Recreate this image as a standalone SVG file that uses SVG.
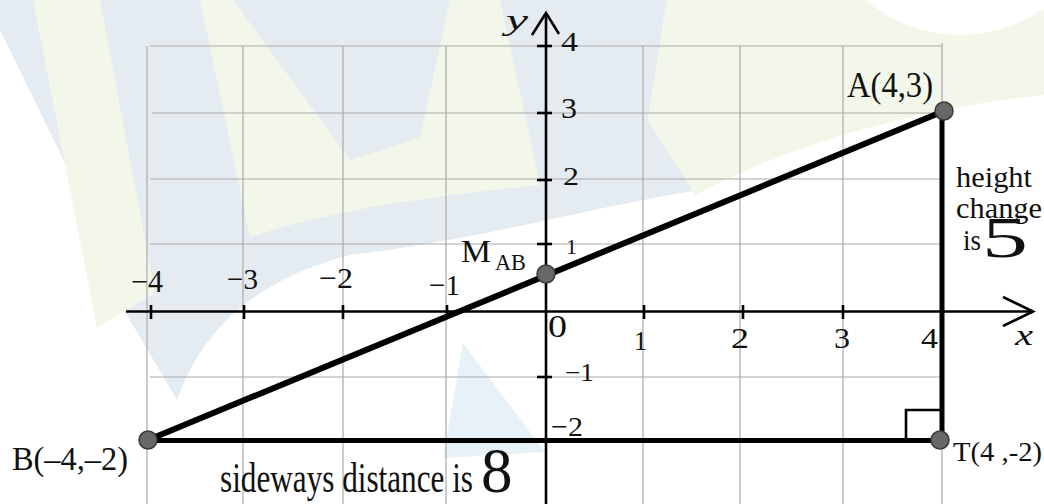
<svg xmlns="http://www.w3.org/2000/svg" width="1044" height="504" viewBox="0 0 1044 504">
<style>
  text { font-family: "Liberation Serif", "Times New Roman", serif; fill: #111; }
  .tick-label { font-size: 29px; }
  .axis-name { font-size: 30px; font-style: italic; }
  .grid line { stroke: #a9a9a9; stroke-width: 1.2; }
  .axis { stroke: #000; stroke-width: 2.6; fill: none; }
  .tick { stroke: #000; stroke-width: 2.6; }
  .seg { stroke: #000; fill: none; stroke-linecap: butt; }
  .pt { fill: #686868; stroke: #3a3a3a; stroke-width: 1.5; }
  .wm-blue { fill: #e5ecf1; }
  .wm-yellow { fill: #f2f7ea; }
</style>
<rect width="1044" height="504" fill="#ffffff"/>
<g id="watermark">
  <path class="wm-blue" d="M0,0 L35,0 L66,165 L0,30 Z"/>
  <path class="wm-blue" d="M95,0 L667,0 L648,120 L700,190 C 600,205 480,240 350,255 Q 215,290 177,400 L118,300 Z"/>
  <path class="wm-yellow" d="M33,0 L100,0 L155,293 L97,328 Z"/>
  <path class="wm-yellow" d="M200,0 L233,0 L350,160 L420,138 L450,0 L500,0 L540,185 C 450,195 350,205 250,237 Z"/>
  <path class="wm-yellow" d="M667,0 L1044,0 L1044,95 C 900,110 780,150 695,195 L648,120 Z"/>
  <circle cx="960" cy="-110" r="145" fill="#ffffff"/>
  <path d="M463,343 L443,458 L545,452 Z" fill="#e6f2f8"/>
</g>
<g id="grid" class="grid">
  <line x1="147" y1="46" x2="147" y2="504"/>
  <line x1="243" y1="46" x2="243" y2="504"/>
  <line x1="343" y1="46" x2="343" y2="504"/>
  <line x1="446" y1="46" x2="446" y2="504"/>
  <line x1="643" y1="46" x2="643" y2="504"/>
  <line x1="740" y1="46" x2="740" y2="504"/>
  <line x1="843" y1="46" x2="843" y2="504"/>
  <line x1="942" y1="43" x2="942" y2="504"/>
  <line x1="150" y1="46" x2="942" y2="46"/>
  <line x1="152" y1="113" x2="942" y2="113"/>
  <line x1="150" y1="179" x2="942" y2="179"/>
  <line x1="150" y1="244" x2="942" y2="244"/>
  <line x1="150" y1="377" x2="940" y2="377"/>
  <line x1="150" y1="441" x2="940" y2="441"/>
</g>
<g id="axes">
  <line class="axis" x1="126" y1="311.5" x2="1032" y2="311.5"/>
  <polyline class="axis" points="1003,297 1033,311.5 1003,326"/>
  <line class="axis" x1="546" y1="504" x2="546" y2="14"/>
  <polyline class="axis" points="532,35 546,13 559,34"/>
  <g id="x-ticks">
    <line class="tick" x1="151" y1="305" x2="151" y2="319"/>
    <line class="tick" x1="244" y1="305" x2="244" y2="319"/>
    <line class="tick" x1="343" y1="305" x2="343" y2="319"/>
    <line class="tick" x1="447" y1="305" x2="447" y2="319"/>
    <line class="tick" x1="644" y1="305" x2="644" y2="319"/>
    <line class="tick" x1="743" y1="305" x2="743" y2="319"/>
    <line class="tick" x1="843" y1="305" x2="843" y2="319"/>
  </g>
  <g id="y-ticks">
    <line class="tick" x1="537" y1="46" x2="552" y2="46"/>
    <line class="tick" x1="537" y1="113" x2="552" y2="113"/>
    <line class="tick" x1="537" y1="180" x2="552" y2="180"/>
    <line class="tick" x1="537" y1="244" x2="552" y2="244"/>
    <line class="tick" x1="537" y1="377" x2="552" y2="377"/>
  </g>
  <g id="x-tick-labels" class="tick-label">
    <text x="131" y="292" font-size="31" textLength="32" lengthAdjust="spacingAndGlyphs">−4</text>
    <text x="227" y="289" font-size="30" textLength="31" lengthAdjust="spacingAndGlyphs">−3</text>
    <text x="319" y="288" font-size="30" textLength="34" lengthAdjust="spacingAndGlyphs">−2</text>
    <text x="429" y="295" font-size="30" textLength="31" lengthAdjust="spacingAndGlyphs">−1</text>
    <text x="548" y="337" font-size="32" textLength="19" lengthAdjust="spacingAndGlyphs">0</text>
    <text x="634" y="350" font-size="27" textLength="13" lengthAdjust="spacingAndGlyphs">1</text>
    <text x="731" y="348" textLength="18" lengthAdjust="spacingAndGlyphs">2</text>
    <text x="834" y="348" textLength="16" lengthAdjust="spacingAndGlyphs">3</text>
    <text x="921" y="348" textLength="17" lengthAdjust="spacingAndGlyphs">4</text>
  </g>
  <g id="y-tick-labels" class="tick-label">
    <text x="561" y="51" font-size="27" textLength="17" lengthAdjust="spacingAndGlyphs">4</text>
    <text x="561" y="118" textLength="16" lengthAdjust="spacingAndGlyphs">3</text>
    <text x="563" y="185" font-size="25" textLength="16" lengthAdjust="spacingAndGlyphs">2</text>
    <text x="566" y="254" font-size="22">1</text>
    <text x="565" y="381" font-size="25" textLength="29" lengthAdjust="spacingAndGlyphs">−1</text>
    <text x="551" y="436" font-size="28" textLength="32" lengthAdjust="spacingAndGlyphs">−2</text>
  </g>
  <text class="axis-name" x="506" y="30" textLength="22" lengthAdjust="spacingAndGlyphs">y</text>
  <text class="axis-name" x="1015" y="345" textLength="18" lengthAdjust="spacingAndGlyphs">x</text>
</g>
<g id="connectors">
  <line id="seg-BA" class="seg" x1="148" y1="440" x2="944" y2="111" stroke-width="6"/>
  <line id="seg-AT" class="seg" x1="942" y1="111" x2="942" y2="440" stroke-width="5"/>
  <line id="seg-BT" class="seg" x1="148" y1="440.5" x2="942" y2="440.5" stroke-width="5"/>
  <path id="right-angle" class="seg" d="M906,440 V410 H942" stroke-width="2.6"/>
</g>
<g id="node-A">
  <circle class="pt" cx="944" cy="111" r="9"/>
  <text x="847" y="97" font-size="35" textLength="86" lengthAdjust="spacingAndGlyphs">A(4,3)</text>
</g>
<g id="node-B">
  <circle class="pt" cx="148" cy="440" r="9"/>
  <text x="12" y="470" font-size="33" textLength="116" lengthAdjust="spacingAndGlyphs">B(–4,–2)</text>
</g>
<g id="node-T">
  <circle class="pt" cx="940" cy="440" r="9"/>
  <text x="953" y="461" font-size="28" textLength="89" lengthAdjust="spacingAndGlyphs">T(4 ,-2)</text>
</g>
<g id="node-M">
  <circle class="pt" cx="546" cy="274" r="9"/>
  <text x="461" y="262" font-size="31" textLength="30" lengthAdjust="spacingAndGlyphs">M</text>
  <text x="495" y="270" font-size="24" textLength="31" lengthAdjust="spacingAndGlyphs">AB</text>
</g>
<g id="label-height">
  <text x="956" y="187" font-size="30" textLength="76" lengthAdjust="spacingAndGlyphs">height</text>
  <text x="956" y="218" font-size="30" textLength="86" lengthAdjust="spacingAndGlyphs">change</text>
  <text x="963" y="250" font-size="30" textLength="18" lengthAdjust="spacingAndGlyphs">is</text>
  <text x="982" y="257" font-size="57" textLength="46" lengthAdjust="spacingAndGlyphs">5</text>
</g>
<g id="label-sideways">
  <text x="220" y="492" font-size="42" textLength="253" lengthAdjust="spacingAndGlyphs">sideways distance is</text>
  <text x="481" y="492" font-size="63">8</text>
</g>
</svg>
